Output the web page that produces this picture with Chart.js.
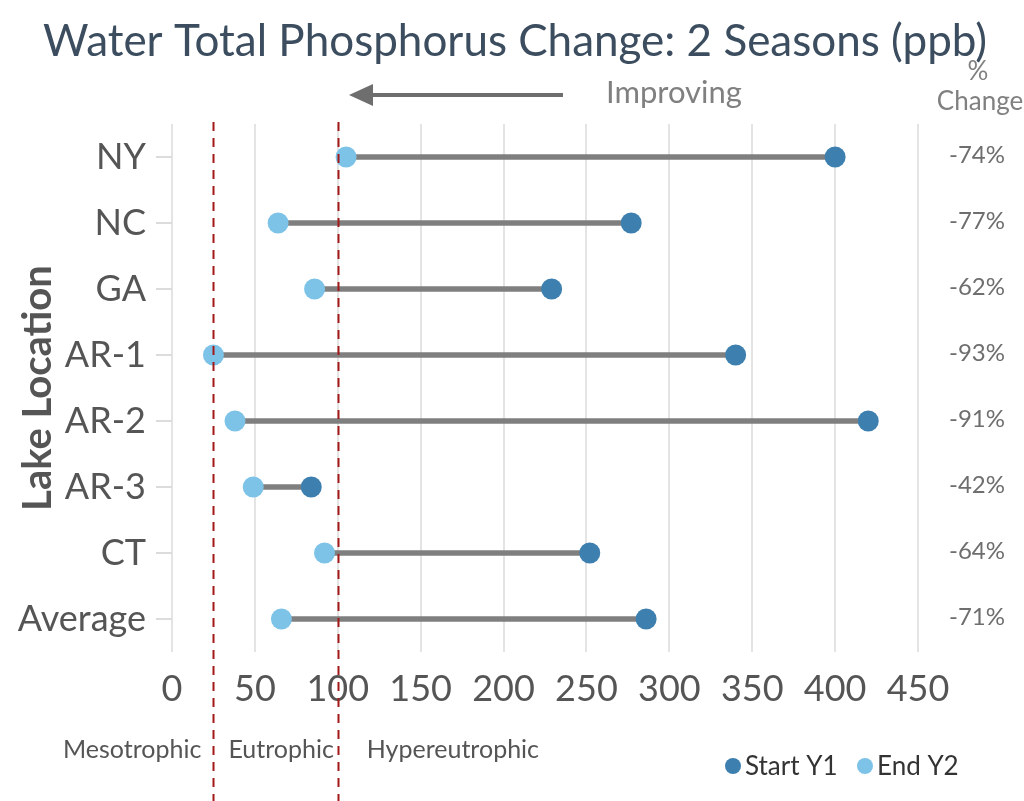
<!DOCTYPE html>
<html>
<head>
<meta charset="utf-8">
<script src="https://cdn.jsdelivr.net/npm/chart.js@4.4.1/dist/chart.umd.min.js"></script>
<style>
  html, body { margin: 0; padding: 0; background: #fff; }
  #wrap { width: 1024px; height: 801px; }
</style>
</head>
<body>
<div id="wrap"><canvas id="chart"></canvas></div>
<script>
// --- data (ppb) ---
const lakes = ['NY', 'NC', 'GA', 'AR-1', 'AR-2', 'AR-3', 'CT', 'Average'];
const startY1 = [400, 277, 229, 340, 420, 84, 252, 286];
const endY2 = [105, 64, 86, 25, 38, 49, 92, 66];
const pctChange = ['-74%', '-77%', '-62%', '-93%', '-91%', '-42%', '-64%', '-71%'];
const trophicCuts = [25, 100];
const trophicNames = ['Mesotrophic', 'Eutrophic', 'Hypereutrophic'];

const START_COL = '#3d7fae';
const END_COL = '#7dc3e8';
const FONT = "Lato, 'Open Sans', sans-serif";

// extra drawing: title, arrow, % change column, trophic lines, legend
const extras = {
  id: 'extras',
  afterDatasetsDraw(chart) {
    const { ctx, scales: { x, y } } = chart;
    ctx.save();

    // trophic state cut lines
    ctx.strokeStyle = '#a31919';
    ctx.lineWidth = 2;
    ctx.setLineDash([9, 7]);
    trophicCuts.forEach(v => {
      const px = Math.round(x.getPixelForValue(v)) + 0.5;
      ctx.beginPath();
      ctx.moveTo(px, 122);
      ctx.lineTo(px, 801);
      ctx.stroke();
    });
    ctx.setLineDash([]);

    // trophic labels
    const c0 = x.getPixelForValue(trophicCuts[0]);
    const c1 = x.getPixelForValue(trophicCuts[1]);
    ctx.font = '25px ' + FONT;
    ctx.fillStyle = '#555';
    ctx.textBaseline = 'middle';
    ctx.textAlign = 'right';
    ctx.fillText(trophicNames[0], c0 - 12, 750);
    ctx.textAlign = 'left';
    ctx.fillText(trophicNames[1], c0 + 15, 750);
    ctx.fillText(trophicNames[2], c1 + 29, 750);

    // title
    ctx.font = '44px ' + FONT;
    ctx.fillStyle = '#3b4d5e';
    ctx.textAlign = 'center';
    ctx.fillText('Water Total Phosphorus Change: 2 Seasons (ppb)', 515, 42);

    // improving arrow
    ctx.strokeStyle = '#6e6e6e';
    ctx.fillStyle = '#6e6e6e';
    ctx.lineWidth = 4;
    ctx.beginPath();
    ctx.moveTo(563, 95);
    ctx.lineTo(368, 95);
    ctx.stroke();
    ctx.beginPath();
    ctx.moveTo(349, 95);
    ctx.lineTo(373, 84);
    ctx.lineTo(373, 106);
    ctx.closePath();
    ctx.fill();
    ctx.font = '31px ' + FONT;
    ctx.fillStyle = '#808080';
    ctx.textAlign = 'left';
    ctx.fillText('Improving', 606, 93);

    // % change column
    ctx.font = '26px ' + FONT;
    ctx.textAlign = 'center';
    ctx.fillText('%', 978, 72);
    ctx.fillText('Change', 980, 102);
    ctx.font = '24px ' + FONT;
    ctx.fillStyle = '#6e6e6e';
    pctChange.forEach((p, i) => {
      ctx.fillText(p, 977, y.getPixelForValue(i) - 2);
    });

    // legend
    const legend = [['Start Y1', START_COL, 733], ['End Y2', END_COL, 865]];
    ctx.font = '26px ' + FONT;
    ctx.textAlign = 'left';
    legend.forEach(([label, col, lx]) => {
      ctx.fillStyle = col;
      ctx.beginPath();
      ctx.arc(lx, 766, 8, 0, Math.PI * 2);
      ctx.fill();
      ctx.fillStyle = '#333';
      ctx.fillText(label, lx + 12, 767);
    });

    ctx.restore();
  }
};

new Chart(document.getElementById('chart'), {
  data: {
    labels: lakes,
    datasets: [
      {
        type: 'bar',
        label: 'Change',
        data: lakes.map((_, i) => [endY2[i], startY1[i]]),
        backgroundColor: '#7f7f7f',
        barThickness: 5,
        order: 3
      },
      {
        type: 'line',
        label: 'Start Y1',
        data: startY1,
        showLine: false,
        pointRadius: 10.5,
        pointBorderWidth: 0,
        pointBackgroundColor: START_COL,
        backgroundColor: START_COL,
        order: 2
      },
      {
        type: 'line',
        label: 'End Y2',
        data: endY2,
        showLine: false,
        pointRadius: 10.5,
        pointBorderWidth: 0,
        pointBackgroundColor: END_COL,
        backgroundColor: END_COL,
        order: 1
      }
    ]
  },
  options: {
    indexAxis: 'y',
    responsive: true,
    maintainAspectRatio: false,
    animation: false,
    events: [],
    layout: { padding: { top: 124, right: 106, left: 0, bottom: 0 } },
    plugins: {
      legend: { display: false },
      title: { display: false },
      tooltip: { enabled: false }
    },
    scales: {
      x: {
        type: 'linear',
        position: 'bottom',
        min: 0,
        max: 450,
        ticks: { stepSize: 50, color: '#555', font: { family: FONT, size: 36 }, padding: 16 },
        grid: { color: '#e4e4e4', lineWidth: 2, drawTicks: false },
        border: { display: false },
        afterFit: s => { s.height = 149; }
      },
      y: {
        type: 'category',
        offset: true,
        ticks: { color: '#555', font: { family: FONT, size: 36 }, padding: 10 },
        grid: { offset: false, drawOnChartArea: false, drawTicks: true, tickLength: 16, color: '#dcdcdc', lineWidth: 2 },
        border: { display: false },
        title: {
          display: true,
          text: 'Lake Location',
          color: '#555',
          font: { family: FONT, size: 40, weight: 'bold' },
          padding: { top: 14, bottom: 0 }
        },
        afterFit: s => { s.width = 172; }
      }
    }
  },
  plugins: [extras]
});
</script>
</body>
</html>
